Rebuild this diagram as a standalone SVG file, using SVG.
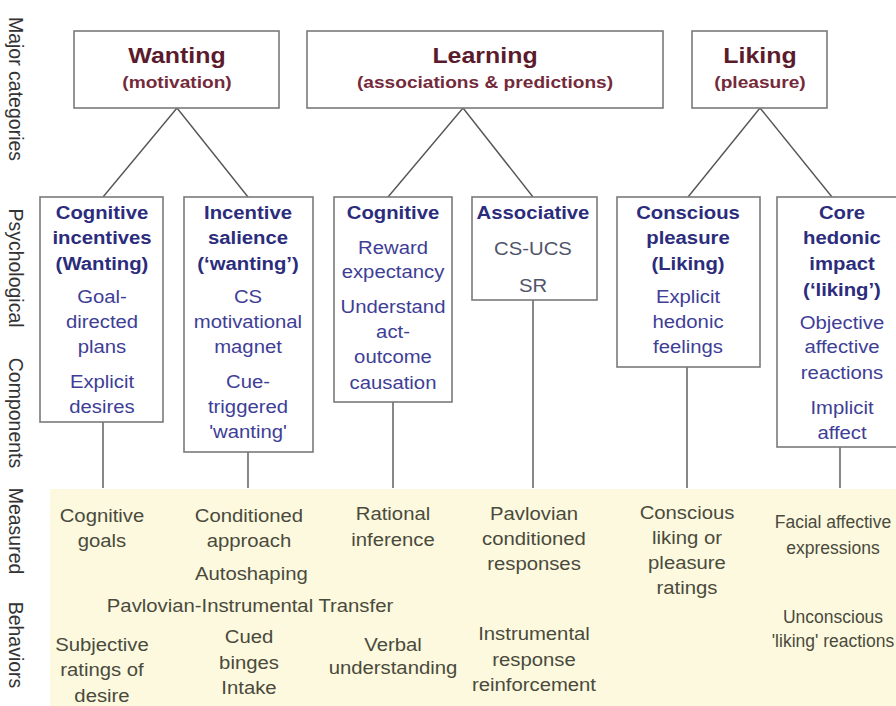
<svg xmlns="http://www.w3.org/2000/svg" width="896" height="706" viewBox="0 0 896 706">
<style>
  text { font-family: "Liberation Sans", Arial, sans-serif; }
  .box { fill: #ffffff; stroke: #7a7a7a; stroke-width: 1.6; }
  .conn line { stroke: #555555; stroke-width: 1.4; }
  .title { font-size: 21.5px; font-weight: bold; fill: #5a1c2c; text-anchor: middle; }
  .sub { font-size: 16.5px; font-weight: bold; fill: #742a3a; text-anchor: middle; }
  .head { font-size: 17.5px; font-weight: bold; fill: #2c2c7c; text-anchor: middle; }
  .body { font-size: 17.5px; fill: #3e3e96; text-anchor: middle; }
  .grey { font-size: 17.5px; fill: #50546a; text-anchor: middle; }
  .beh { font-size: 17.5px; fill: #4a4a3c; text-anchor: middle; }
  .side { font-size: 19.5px; fill: #333333; text-anchor: middle; }
</style>

<!-- measured behaviors background -->
<rect x="50" y="489" width="850" height="220" fill="#fcf9df"/>

<!-- side labels -->
<g id="side-labels">
  <text class="side" transform="translate(9,89) rotate(90)">Major categories</text>
  <text class="side" transform="translate(9,268) rotate(90)">Psychological</text>
  <text class="side" transform="translate(9,413) rotate(90)">Components</text>
  <text class="side" transform="translate(9,531) rotate(90)">Measured</text>
  <text class="side" transform="translate(9,645) rotate(90)">Behaviors</text>
</g>

<!-- connectors -->
<g id="connectors" class="conn">
  <line x1="177" y1="108" x2="103" y2="197"/>
  <line x1="177" y1="108" x2="248" y2="197"/>
  <line x1="463" y1="108" x2="388" y2="197"/>
  <line x1="463" y1="108" x2="533" y2="197"/>
  <line x1="760" y1="108" x2="688" y2="197"/>
  <line x1="760" y1="108" x2="832" y2="197"/>
  <line x1="103" y1="422" x2="103" y2="488"/>
  <line x1="248" y1="452" x2="248" y2="488"/>
  <line x1="393" y1="402" x2="393" y2="488"/>
  <line x1="533" y1="300" x2="533" y2="488"/>
  <line x1="687" y1="367" x2="687" y2="488"/>
  <line x1="840" y1="447" x2="840" y2="488"/>
</g>

<!-- major categories -->
<g id="wanting">
  <rect class="box" x="74" y="31" width="205" height="77"/>
  <g transform="translate(177 0) scale(1.16 1)">
    <text class="title" x="0" y="63">Wanting</text>
    <text class="sub" x="0" y="88">(motivation)</text>
  </g>
</g>
<g id="learning">
  <rect class="box" x="307" y="31" width="356" height="77"/>
  <g transform="translate(485 0) scale(1.16 1)">
    <text class="title" x="0" y="63">Learning</text>
    <text class="sub" x="0" y="88">(associations &amp; predictions)</text>
  </g>
</g>
<g id="liking">
  <rect class="box" x="692" y="31" width="135" height="77"/>
  <g transform="translate(760 0) scale(1.16 1)">
    <text class="title" x="0" y="63">Liking</text>
    <text class="sub" x="0" y="88">(pleasure)</text>
  </g>
</g>

<!-- psychological components -->
<g id="cognitive-incentives">
  <rect class="box" x="40" y="197" width="123" height="225"/>
  <g transform="translate(102 0) scale(1.16 1)">
    <text class="head" x="0" y="219">Cognitive</text>
    <text class="head" x="0" y="244">incentives</text>
    <text class="head" x="0" y="270">(Wanting)</text>
    <text class="body" x="0" y="303">Goal-</text>
    <text class="body" x="0" y="328">directed</text>
    <text class="body" x="0" y="353">plans</text>
    <text class="body" x="0" y="388">Explicit</text>
    <text class="body" x="0" y="413">desires</text>
  </g>
</g>
<g id="incentive-salience">
  <rect class="box" x="184" y="197" width="129" height="255"/>
  <g transform="translate(248 0) scale(1.16 1)">
    <text class="head" x="0" y="219">Incentive</text>
    <text class="head" x="0" y="244">salience</text>
    <text class="head" x="0" y="270">(‘wanting’)</text>
    <text class="body" x="0" y="303">CS</text>
    <text class="body" x="0" y="328">motivational</text>
    <text class="body" x="0" y="353">magnet</text>
    <text class="body" x="0" y="388">Cue-</text>
    <text class="body" x="0" y="413">triggered</text>
    <text class="body" x="0" y="438">'wanting'</text>
  </g>
</g>
<g id="cognitive-learning">
  <rect class="box" x="334" y="197" width="118" height="205"/>
  <g transform="translate(393 0) scale(1.16 1)">
    <text class="head" x="0" y="219">Cognitive</text>
    <text class="body" x="0" y="254">Reward</text>
    <text class="body" x="0" y="278">expectancy</text>
    <text class="body" x="0" y="313">Understand</text>
    <text class="body" x="0" y="338">act-</text>
    <text class="body" x="0" y="363">outcome</text>
    <text class="body" x="0" y="389">causation</text>
  </g>
</g>
<g id="associative">
  <rect class="box" x="472" y="197" width="125" height="103"/>
  <g transform="translate(533 0) scale(1.16 1)">
    <text class="head" x="0" y="219">Associative</text>
    <text class="grey" x="0" y="255">CS-UCS</text>
    <text class="grey" x="0" y="292">SR</text>
  </g>
</g>
<g id="conscious-pleasure">
  <rect class="box" x="617" y="197" width="143" height="170"/>
  <g transform="translate(688 0) scale(1.16 1)">
    <text class="head" x="0" y="219">Conscious</text>
    <text class="head" x="0" y="244">pleasure</text>
    <text class="head" x="0" y="270">(Liking)</text>
    <text class="body" x="0" y="303">Explicit</text>
    <text class="body" x="0" y="328">hedonic</text>
    <text class="body" x="0" y="353">feelings</text>
  </g>
</g>
<g id="core-hedonic-impact">
  <rect class="box" x="777" y="197" width="130" height="250"/>
  <g transform="translate(842 0) scale(1.16 1)">
    <text class="head" x="0" y="219">Core</text>
    <text class="head" x="0" y="244">hedonic</text>
    <text class="head" x="0" y="270">impact</text>
    <text class="head" x="0" y="296">(‘liking’)</text>
    <text class="body" x="0" y="329">Objective</text>
    <text class="body" x="0" y="353">affective</text>
    <text class="body" x="0" y="379">reactions</text>
    <text class="body" x="0" y="414">Implicit</text>
    <text class="body" x="0" y="439">affect</text>
  </g>
</g>

<!-- measured behaviors -->
<g id="behaviors-wanting-cognitive" transform="translate(102 0) scale(1.16 1)">
  <text class="beh" x="0" y="522">Cognitive</text>
  <text class="beh" x="0" y="547">goals</text>
  <text class="beh" x="0" y="651">Subjective</text>
  <text class="beh" x="0" y="676">ratings of</text>
  <text class="beh" x="0" y="702">desire</text>
</g>
<g id="behaviors-incentive" transform="translate(249 0) scale(1.16 1)">
  <text class="beh" x="0" y="522">Conditioned</text>
  <text class="beh" x="0" y="547">approach</text>
  <text class="beh" x="2" y="580">Autoshaping</text>
  <text class="beh" x="0" y="643">Cued</text>
  <text class="beh" x="0" y="669">binges</text>
  <text class="beh" x="0" y="694">Intake</text>
</g>
<g id="behaviors-pit" transform="translate(250 0) scale(1.16 1)">
  <text class="beh" x="0" y="612">Pavlovian-Instrumental Transfer</text>
</g>
<g id="behaviors-cognitive-learning" transform="translate(393 0) scale(1.16 1)">
  <text class="beh" x="0" y="520">Rational</text>
  <text class="beh" x="0" y="546">inference</text>
  <text class="beh" x="0" y="651">Verbal</text>
  <text class="beh" x="0" y="674">understanding</text>
</g>
<g id="behaviors-associative" transform="translate(534 0) scale(1.16 1)">
  <text class="beh" x="0" y="520">Pavlovian</text>
  <text class="beh" x="0" y="545">conditioned</text>
  <text class="beh" x="0" y="570">responses</text>
  <text class="beh" x="0" y="640">Instrumental</text>
  <text class="beh" x="0" y="666">response</text>
  <text class="beh" x="0" y="691">reinforcement</text>
</g>
<g id="behaviors-conscious" transform="translate(687 0) scale(1.16 1)">
  <text class="beh" x="0" y="519">Conscious</text>
  <text class="beh" x="0" y="544">liking or</text>
  <text class="beh" x="0" y="569">pleasure</text>
  <text class="beh" x="0" y="594">ratings</text>
</g>
<g id="behaviors-core" transform="translate(833 0)">
  <text class="beh" x="0" y="528">Facial affective</text>
  <text class="beh" x="0" y="554">expressions</text>
  <text class="beh" x="0" y="623">Unconscious</text>
  <text class="beh" x="0" y="647">'liking' reactions</text>
</g>
</svg>
